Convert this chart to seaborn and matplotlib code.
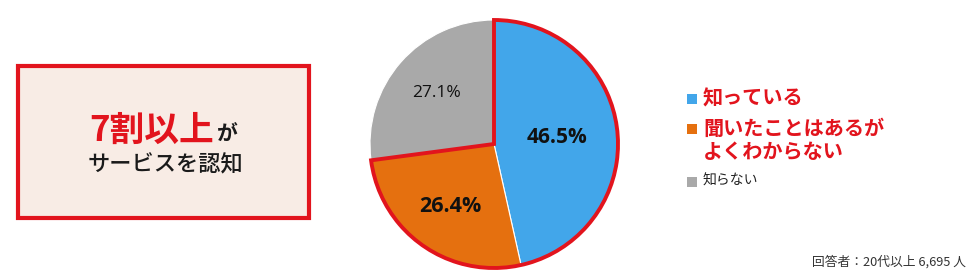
import matplotlib
matplotlib.use("Agg")
import matplotlib.pyplot as plt
from matplotlib.patches import Wedge, Rectangle
import numpy as np
import seaborn as sns

# ---- data ----
categories = ["知っている", "聞いたことはあるが", "よくわからない", "知らない"]
legend_groups = [[0], [1, 2], [3]]
values = [46.5, 26.4, 27.1]
pct_labels = ["46.5%", "26.4%", "27.1%"]
headline_main = "7割以上"
headline_suffix = "が"
headline_sub = "サービスを認知"
footnote = "回答者：20代以上 6,695 人"

# ---- style ----
sns.set_style("white")
JP = ["Noto Sans CJK JP", "DejaVu Sans"]
plt.rcParams["font.family"] = JP
RED = "#E2141D"
colors = sns.color_palette(["#42A6EA", "#E5700F", "#A9A9A9"])
W, H = 980, 280
fig = plt.figure(figsize=(W / 100, H / 100), dpi=100)
fig.patch.set_facecolor("white")

def fx(px):
    return px / W

def fy(py):
    return 1 - py / H

# ---- left callout box ----
box = Rectangle((fx(18), fy(218)), fx(291), 152 / H, transform=fig.transFigure,
                facecolor="#F8ECE5", edgecolor=RED, linewidth=3.0)
fig.patches.append(box)
fig.text(fx(214), fy(141), headline_main, color=RED, fontsize=25, fontweight="bold",
         ha="right", va="baseline", family=JP)
fig.text(fx(217), fy(141), headline_suffix, color="#1a1a1a", fontsize=15, fontweight="bold",
         ha="left", va="baseline", family=JP)
fig.text(fx(165), fy(165), headline_sub, color="#1a1a1a", fontsize=16, fontweight="medium",
         ha="center", va="center", family=JP)

# ---- pie ----
cx, cy, R = 494, 144, 124
side = 272
ax = fig.add_axes([fx(cx - side / 2), fy(cy + side / 2), side / W, side / H])
lim = side / 2 / R
wedges, _ = ax.pie(values, colors=colors, startangle=90, counterclock=False,
                   wedgeprops=dict(edgecolor="white", linewidth=0.8), radius=1.0)
ax.set_xlim(-lim, lim)
ax.set_ylim(-lim, lim)
ax.set_aspect("equal")
ax.axis("off")

# red outline around "aware" share (first two slices)
aware = (values[0] + values[1]) / sum(values)
ax.add_patch(Wedge((0, 0), 1.0, 90 - aware * 360, 90, fill=False,
                   edgecolor=RED, linewidth=2.8, joinstyle="miter"))

# percentage labels
dists = [0.51, 0.61, 0.62]
sizes = [15, 15.5, 12.5]
weights = ["bold", "bold", "normal"]
for w, lab, d, s, wt in zip(wedges, pct_labels, dists, sizes, weights):
    ang = np.deg2rad((w.theta1 + w.theta2) / 2)
    ax.text(d * np.cos(ang), d * np.sin(ang), lab, ha="center", va="center",
            fontsize=s, fontweight=wt, color="#111111", family=["Open Sans", "DejaVu Sans"])

# ---- legend ----
line_y = [98, 128, 151, 181]
line_style = [(RED, 14.5, "bold"), (RED, 14.5, "bold"), (RED, 14.5, "bold"), ("#222222", 10, "normal")]
for gi, group in enumerate(legend_groups):
    first = group[0]
    sq = 10
    fig.patches.append(Rectangle((fx(687), fy(line_y[first] + sq / 2 + 1)), fx(sq), sq / H,
                                 transform=fig.transFigure, facecolor=colors[gi], edgecolor="none"))
    for li in group:
        tcol, fs, fw = line_style[li]
        fig.text(fx(703), fy(line_y[li]), categories[li], color=tcol, fontsize=fs, fontweight=fw,
                 ha="left", va="center", family=JP)

# ---- footnote ----
fig.text(fx(966), fy(262), footnote, color="#333333", fontsize=9.2,
         ha="right", va="center", family=JP)

fig.savefig("out.png", dpi=100)
